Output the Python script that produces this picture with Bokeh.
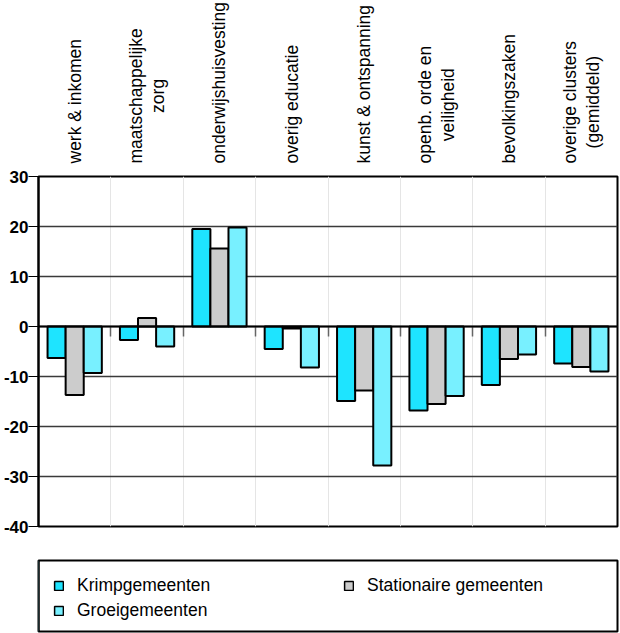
from math import pi
from bokeh.plotting import figure
from bokeh.layouts import column
from bokeh.models import (Range1d, LinearAxis, FixedTicker, Span,
                          Legend, LegendItem, ColumnDataSource)
from bokeh.transform import dodge
from bokeh.core.properties import value
from bokeh.embed import file_html
from bokeh.resources import INLINE

# ---------------- data ----------------
categories = ["werk & inkomen", "maatschappelijke zorg", "onderwijshuisvesting",
              "overig educatie", "kunst & ontspanning", "openb. orde en veiligheid",
              "bevolkingszaken", "overige clusters (gemiddeld)"]
category_labels = ["werk & inkomen", "maatschappelijke\nzorg", "onderwijshuisvesting",
                   "overig educatie", "kunst & ontspanning", "openb. orde en\nveiligheid",
                   "bevolkingszaken", "overige clusters\n(gemiddeld)"]
krimp = [-6.3, -2.7, 19.5, -4.5, -14.9, -16.8, -11.7, -7.4]
stationair = [-13.7, 1.7, 15.6, -0.4, -12.8, -15.5, -6.5, -8.1]
groei = [-9.3, -4.0, 19.8, -8.2, -27.8, -13.9, -5.6, -9.0]
series_names = ["Krimpgemeenten", "Stationaire gemeenten", "Groeigemeenten"]
y_ticks = [-40, -30, -20, -10, 0, 10, 20, 30]

# ---------------- styles ----------------
FONT = "Liberation Sans"
FS = "17.5px"
C_KRIMP = "#1ee4ff"
C_STAT = "#cccccc"
C_GROEI = "#78f0ff"
W = 620
BL, BR = 35, 3
H_TOP, H_MAIN, H_LEG = 167, 369, 97

n = len(categories)
centers = [i + 0.5 for i in range(n)]  # category slot centres on a 0..n axis
src = ColumnDataSource(data=dict(x=centers, cat=categories, krimp=krimp,
                                 stationair=stationair, groei=groei))
x_range = Range1d(0, n)

# ---------------- main plot ----------------
p = figure(width=W, height=H_MAIN, x_range=x_range, y_range=Range1d(-40, 30),
           output_backend="svg", toolbar_location=None, x_axis_location=None,
           min_border_left=BL, min_border_right=BR, min_border_top=9,
           min_border_bottom=10)
p.outline_line_color = "black"
p.outline_line_width = 2

for col, off, color in [("krimp", -0.25, C_KRIMP), ("stationair", 0.0, C_STAT),
                        ("groei", 0.25, C_GROEI)]:
    p.vbar(x=dodge("x", off), top=col, width=0.25, source=src,
           fill_color=color, line_color="black", line_width=2)

ticker = FixedTicker(ticks=y_ticks)
p.yaxis.ticker = ticker
p.ygrid.ticker = ticker
p.yaxis.major_label_overrides = {t: str(t) for t in y_ticks}
p.yaxis.major_label_text_font = FONT
p.yaxis.major_label_text_font_size = "17px"
p.yaxis.major_label_text_font_style = "bold"
p.yaxis.major_label_text_color = "black"
p.yaxis.major_label_standoff = 0
p.yaxis.major_tick_out = 10
p.yaxis.major_tick_in = 0
p.yaxis.minor_tick_line_color = None
p.yaxis.major_tick_line_color = "black"
p.yaxis.axis_line_color = "black"
p.yaxis.axis_line_width = 2
p.ygrid.grid_line_color = "#3a3a3a"
p.ygrid.grid_line_width = 1.5

p.add_layout(Span(location=0, dimension="width", line_color="black", line_width=2))

# separator ticks between categories on the zero line
sep_axis = LinearAxis(fixed_location=0,
                      ticker=FixedTicker(ticks=list(range(1, n))))
sep_axis.axis_line_color = None
sep_axis.major_tick_in = 0
sep_axis.major_tick_out = 10
sep_axis.minor_tick_line_color = None
sep_axis.major_tick_line_color = "#666666"
sep_axis.major_tick_line_width = 1.5
sep_axis.major_label_text_font_size = "0px"
sep_axis.major_label_text_alpha = 0
p.add_layout(sep_axis, "below")

# ---------------- category labels ----------------
top = figure(width=W, height=H_TOP, x_range=p.x_range, y_range=Range1d(0, H_TOP),
             output_backend="svg", toolbar_location=None, x_axis_location=None,
             y_axis_location=None, min_border_left=BL, min_border_right=BR,
             min_border_top=0, min_border_bottom=0)
top.outline_line_color = None
top.grid.visible = False
top.text(x=centers, y=[4] * n, text=category_labels, angle=pi / 2,
         anchor="center_left", text_align="center",
         text_font=value(FONT), text_font_size=FS, text_color="black",
         text_line_height=1.12)

# ---------------- legend ----------------
leg = figure(width=W, height=H_LEG, output_backend="svg", toolbar_location=None,
             x_axis_location=None, y_axis_location=None,
             x_range=Range1d(0, 1), y_range=Range1d(0, 1),
             min_border_left=BL, min_border_right=BR, min_border_top=24,
             min_border_bottom=2)
leg.outline_line_color = "black"
leg.outline_line_width = 2
leg.grid.visible = False
rs = []
for color in [C_KRIMP, C_STAT, C_GROEI]:
    # legend swatch carriers, placed outside the visible range
    rs.append(leg.vbar(x=[-5], top=[1], width=0.1, fill_color=color,
                       line_color="black", line_width=1.5))

common = dict(margin=15, padding=0, spacing=4, glyph_width=11, glyph_height=11,
              label_standoff=13, label_height=20, label_text_font=FONT,
              label_text_font_size=FS, label_text_color="black",
              border_line_color=None, background_fill_alpha=0)
l1 = Legend(items=[LegendItem(label=series_names[0], renderers=[rs[0]]),
                   LegendItem(label=series_names[2], renderers=[rs[2]])],
            location="top_left", **common)
l2 = Legend(items=[LegendItem(label=series_names[1], renderers=[rs[1]])],
            location="top_right", label_width=235, **common)
leg.add_layout(l1)
leg.add_layout(l2)

layout = column(top, p, leg)
open("out.html", "w").write(file_html(layout, INLINE))
